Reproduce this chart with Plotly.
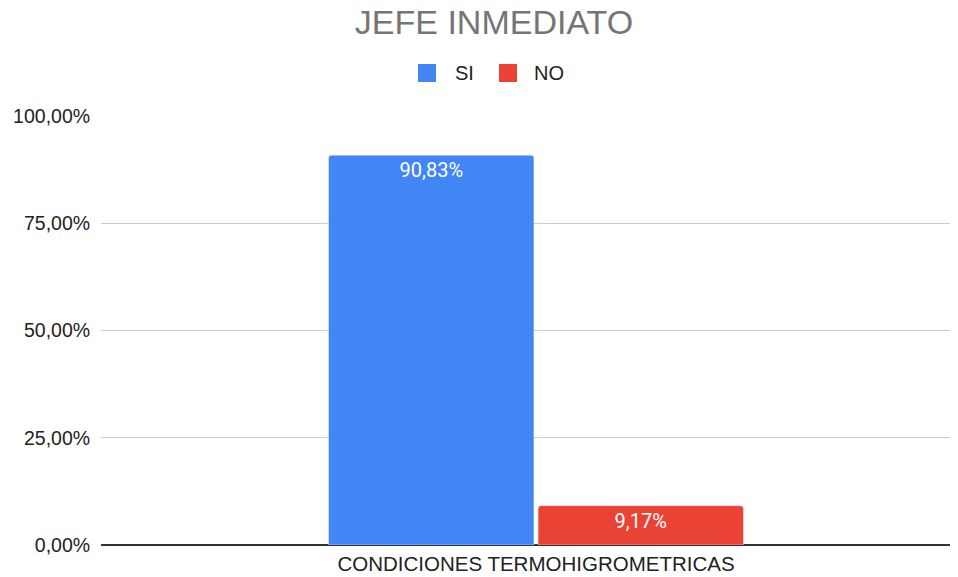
import plotly.graph_objects as go

categories = ["CONDICIONES TERMOHIGROMETRICAS"]
series_names = ["SI", "NO"]
si_values = [0.9083]
no_values = [0.0917]
colors = ["#4285F4", "#EA4335"]
y_ticks = [0, 0.25, 0.5, 0.75, 1.0]

FONT = "Liberation Sans, Arial, sans-serif"

# page body has an 8px margin: figure is placed at (8,8)
W, H = 950, 569
L, R, T, B = 93, 0, 107, 32
PW, PH = W - L - R, H - T - B

fig = go.Figure()
for name, vals, col in zip(series_names, [si_values, no_values], colors):
    fig.add_trace(go.Bar(
        x=categories, y=vals, name=name, marker_color=col,
        texttemplate="%{y:.2%}", textposition="inside", insidetextanchor="end",
        textfont=dict(color="white", size=20, family="Roboto, sans-serif"),
        showlegend=False,
    ))

# custom legend (larger square swatches), positions in page pixels
legend_items = [(418, 453), (499, 532)]
def px(xp):
    return (xp - 8 - L) / PW
def py(yp):
    return (H - B - (yp - 8)) / PH
for (sx, tx), name, col in zip(legend_items, series_names, colors):
    fig.add_shape(type="rect", xref="paper", yref="paper",
                  x0=px(sx), x1=px(sx + 18), y0=py(82), y1=py(64),
                  fillcolor=col, line=dict(width=0), layer="above")
    fig.add_annotation(xref="paper", yref="paper", x=px(tx), y=py(73),
                       text=name, showarrow=False, xanchor="left", yanchor="middle",
                       font=dict(family=FONT, size=20, color="#222222"))

fig.update_layout(
    width=W, height=H,
    separators=",.",
    paper_bgcolor="white", plot_bgcolor="white",
    margin=dict(l=L, r=R, t=T, b=B, autoexpand=False),
    barmode="group", bargap=0.511, bargroupgap=0.02, barcornerradius=3,
    title=dict(text="JEFE INMEDIATO", x=(494 - 8) / W, xanchor="center",
               y=1 - (22 - 8) / H, yanchor="middle",
               font=dict(family=FONT, size=34, color="#757575")),
    showlegend=False,
    font=dict(family=FONT),
    xaxis=dict(range=[-0.5076, 0.4924], showgrid=False, showline=False, ticks="",
               automargin=False, ticklabelstandoff=4,
               tickfont=dict(family=FONT, size=20.5, color="#222222")),
    yaxis=dict(range=[0, 1.002], tickvals=y_ticks, tickformat=".2%", showgrid=True,
               automargin=False,
               gridcolor="#CCCCCC", gridwidth=1, zeroline=True, zerolinecolor="#333333",
               zerolinewidth=2, showline=False, ticks="outside", ticklen=6, tickcolor="white",
               tickfont=dict(family=FONT, size=19.5, color="#222222")),
)
fig.write_html("out.html")
